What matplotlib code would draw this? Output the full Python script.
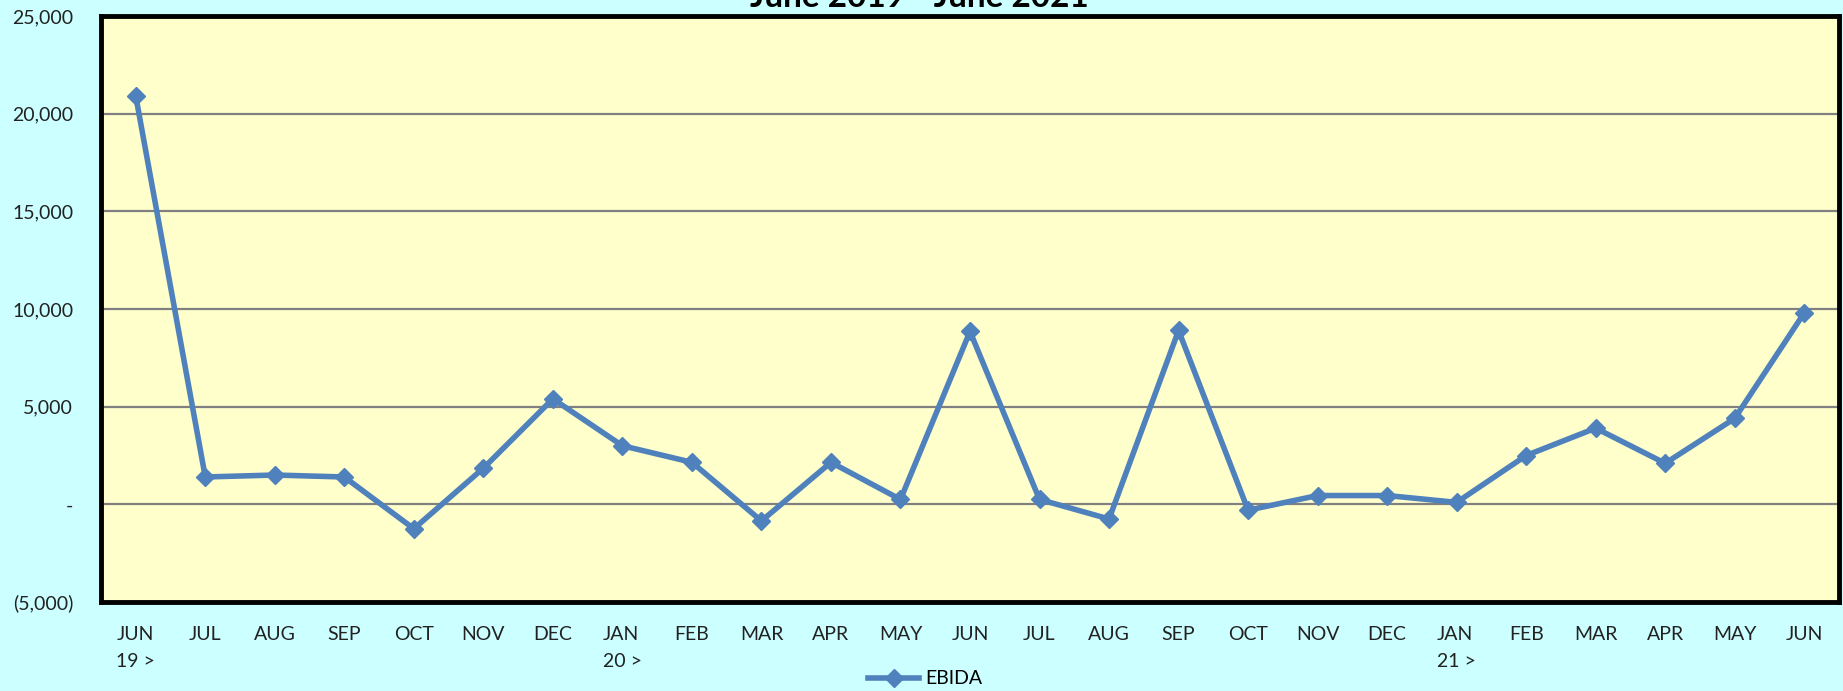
import numpy as np
import matplotlib.pyplot as plt
from matplotlib.ticker import FuncFormatter

months = ['JUN\n19 >', 'JUL', 'AUG', 'SEP', 'OCT', 'NOV', 'DEC', 'JAN\n20 >', 'FEB',
          'MAR', 'APR', 'MAY', 'JUN', 'JUL', 'AUG', 'SEP', 'OCT', 'NOV', 'DEC',
          'JAN\n21 >', 'FEB', 'MAR', 'APR', 'MAY', 'JUN']
ebida = [20900, 1400, 1500, 1400, -1250, 1850, 5400, 3000, 2150,
         -850, 2150, 250, 8850, 250, -750, 8900, -300, 450, 450,
         100, 2500, 3900, 2100, 4400, 9800]
yticks = [-5000, 0, 5000, 10000, 15000, 20000, 25000]

plt.rcParams['font.family'] = ['Lato', 'DejaVu Sans']

fig = plt.figure(figsize=(18.43, 6.91), dpi=100, facecolor='#CCFFFF')
ax = fig.add_axes([101 / 1843, 1 - 602 / 691, (1839 - 101) / 1843, (602 - 16) / 691])
ax.set_facecolor('#FFFFCC')

x = np.arange(len(months))
ax.plot(x, ebida, color='#4F81BD', lw=4, marker='D', ms=9, label='EBIDA', zorder=3)

ax.set_xlim(-0.5, len(months) - 0.5)
ax.set_ylim(-5000, 25000)
ax.set_yticks(yticks)


def fmt(v, pos):
    if v == 0:
        return '-'
    if v < 0:
        return f'({abs(v):,.0f})'
    return f'{v:,.0f}'


ax.yaxis.set_major_formatter(FuncFormatter(fmt))
ax.set_xticks(x)
ax.set_xticklabels(months, multialignment='left', linespacing=1.75)
ax.tick_params(axis='both', length=0, labelsize=14, colors='#222222')
ax.tick_params(axis='x', pad=17)
ax.tick_params(axis='y', pad=20)
for t in ax.get_xticklabels():
    t.set_verticalalignment('top')

ax.grid(axis='y', color='#808080', lw=1.6)
ax.set_axisbelow(True)
for s in ax.spines.values():
    s.set_linewidth(3.5)
    s.set_color('black')

fig.text(0.499, 1 - 12 / 691, 'June 2019 - June 2021', ha='center', va='bottom',
         fontsize=24, fontweight='bold')

fig.legend(loc='lower center', bbox_to_anchor=(0.502, -0.02), frameon=False,
           fontsize=14, handlelength=2.6, handletextpad=0.3)

fig.savefig('out.png', dpi=100, facecolor=fig.get_facecolor())
